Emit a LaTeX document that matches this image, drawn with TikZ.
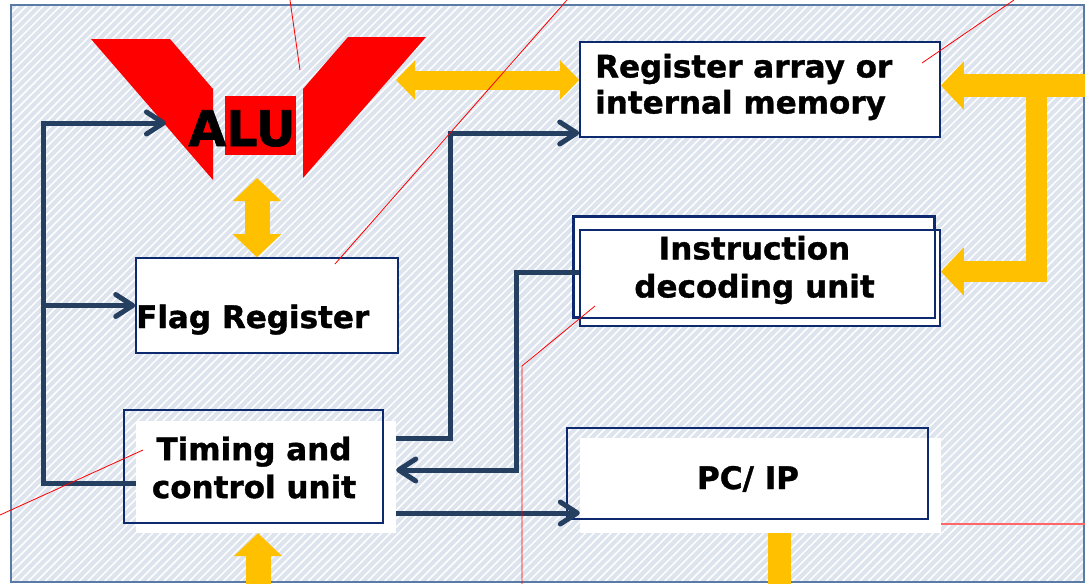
\documentclass[tikz,border=0pt]{standalone}
\usepackage{fontspec}
\setmainfont{DejaVu Sans}[BoldFeatures={FakeBold=1.2}]
\usepackage{tikz}
\usetikzlibrary{arrows.meta,patterns.meta,positioning}

\definecolor{panelfill}{HTML}{DEE4ED}
\definecolor{panelline}{HTML}{5A7BA6}
\definecolor{boxline}{HTML}{0E2A6E}
\definecolor{linkblue}{HTML}{243F60}
\definecolor{busyellow}{HTML}{FFC000}

\begin{document}
\begin{tikzpicture}[
    x=1pt, y=-1pt,
    unitbox/.style={rectangle, draw=boxline, line width=1.6pt, inner sep=0},
    backing/.style={rectangle, fill=white, inner sep=0},
    txt/.style={font=\fontsize{31}{38}\selectfont\bfseries, inner sep=0, align=center},
    link/.style={draw=linkblue, line width=5pt},
    linkto/.style={link, -{Straight Barb[length=17pt,width=22pt,round]}},
    bus/.style={draw=busyellow, line width=#1},
    bighead/.style={-{Triangle[length=23pt,width=47pt]}},
    leader/.style={draw=red, line width=0.8pt},
]
    \useasboundingbox (0,0) rectangle (1085,584);

    % panel
    \fill[panelfill] (11,5) rectangle (1084,582);
    \fill[pattern={Lines[angle=45,distance=6pt,line width=1.5pt]}, pattern color=white, fill opacity=0.15] (11,5) rectangle (1084,582);
    \draw[panelline, line width=2pt] (11,5) rectangle (1084,582);

    % ALU
    \fill[red] (91,39) -- (170,39) -- (213,89) -- (213,180) -- cycle;
    \fill[red] (348,37) -- (426,37) -- (303,178) -- (303,89) -- cycle;
    \fill[red] (225,96) rectangle (296,155);
    \node[font=\fontsize{49}{49}\selectfont\bfseries, inner sep=0, anchor=base] (alu) at (242,146) {ALU};

    \coordinate (aluin) at (166,123);
    \coordinate (busl) at (43,123);
    \coordinate (alur) at (396,80);
    \coordinate (alub) at (257,178);
    \coordinate (tcin) at (258,584);
    \coordinate (busr) at (1085,85.5);
    \coordinate (busj) at (1036,85.5);
    \coordinate (pcout) at (779.5,584);

    % units
    \node[unitbox, fill=white, minimum width=360pt, minimum height=95pt] (regarr) at (760,89.5) {};
    \node[txt, anchor=west, align=left, font=\fontsize{31}{36}\selectfont\bfseries] (regtxt) at (595,87) {Register array or\\internal memory};

    \node[unitbox, fill=white, minimum width=262pt, minimum height=95pt] (flag) at (267,305.5) {};
    \node[txt, anchor=base west] (flagtxt) at (136,328) {Flag Register};

    \node[backing, minimum width=260pt, minimum height=112pt] (timingbg) at (266,477) {};
    \node[unitbox, minimum width=259pt, minimum height=113pt] (timing) at (253.5,466.5) {};
    \node[txt] (timingtxt) at (254,467.5) {Timing and\\control unit};

    \node[unitbox, fill=white, minimum width=360pt, minimum height=100pt] (instrb) at (754,267) {};
    \node[unitbox, fill=white, minimum width=360pt, minimum height=96pt] (instr) at (760,278) {};
    \draw[boxline, line width=1.6pt] (instrb.south west) rectangle (instrb.north east);
    \node[txt] (instrtxt) at (754.5,270) {Instruction\\decoding unit};

    \draw[leader, draw=red!60, line width=1.5pt] (941,524) -- (1085,524);
    \node[backing, minimum width=361pt, minimum height=95pt] (pcbg) at (760.5,485.5) {};
    \node[unitbox, minimum width=361pt, minimum height=91pt] (pc) at (747.5,473.5) {};
    \node[txt, anchor=base] (pctxt) at (748,489) {PC/ IP};

    % data paths
    \draw[bus=19pt, {Triangle[length=19pt,width=38pt]}-{Triangle[length=19pt,width=38pt]}] (alur) -- (regarr.west |- alur);
    \draw[bus=25pt, {Triangle[length=23pt,width=47pt]}-{Triangle[length=23pt,width=47pt]}] (alub) -- (alub |- flag.north);
    \draw[bus=25pt, bighead] (tcin) -- (tcin |- timingbg.south);
    \draw[bus=23pt, bighead] (busr) -- (busr -| regarr.east);
    \draw[bus=21pt, line join=miter, bighead] (busj) -- (1036,271.5) -- (instr.east |- 0,271.5);
    \draw[bus=23pt] (pcout |- pcbg.south) -- (pcout);

    % control paths
    \draw[linkto] (timingbg.west |- 0,483) -| (busl) -- (aluin);
    \draw[linkto] (busl |- flag.west) -- (flag.west);
    \draw[linkto] (timingbg.east |- 0,438) -- (450,438) -- (450,133) -- (regarr.west |- 0,133);
    \draw[linkto] (instr.west |- 0,272) -- (516,272) -- (516,470) -- (timingbg.east |- 0,470);
    \draw[linkto] (timingbg.east |- 0,513) -- (pcbg.west |- 0,513);

    % leaders
    \draw[leader] (290,0) -- (300,70);
    \draw[leader] (567,0) -- (335,264);
    \draw[leader] (1014,0) -- (922,63);
    \draw[leader] (143,450) -- (0,515);
    \draw[leader] (595,306) -- (522,366) -- (522,584);
\end{tikzpicture}
\end{document}
